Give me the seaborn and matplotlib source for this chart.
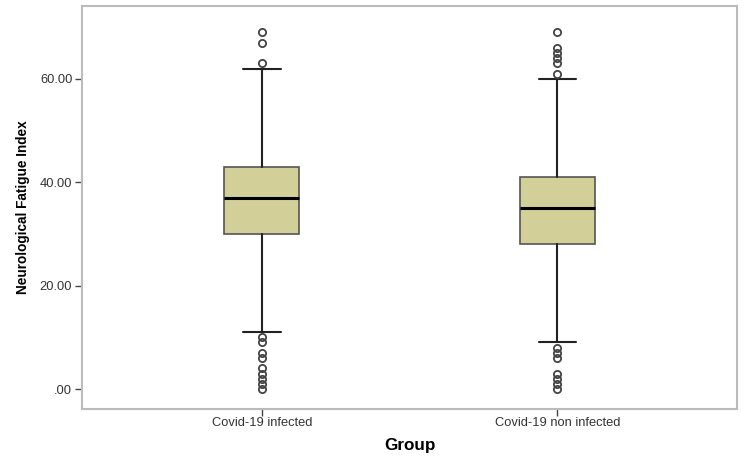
import matplotlib
matplotlib.use("Agg")
import matplotlib.pyplot as plt
import seaborn as sns

# ---- data ----
groups = ["Covid-19 infected", "Covid-19 non infected"]
q1 = [30, 28]
medians = [37, 35]
q3 = [43, 41]
whisker_low = [11, 9]
whisker_high = [62, 60]
outliers_infected = [63, 67, 69, 10, 9, 7, 6, 4, 3, 2, 1, 0]
outliers_noninfected = [61, 63, 64, 65, 66, 69, 8, 7, 6, 3, 2, 1, 0]
y_ticks = [0, 20, 40, 60]
y_tick_labels = [".00", "20.00", "40.00", "60.00"]

sns.set_style("white")
plt.rcParams["font.family"] = ["Liberation Sans", "DejaVu Sans"]

stats = []
for i, name in enumerate(groups):
    stats.append({
        "label": name,
        "q1": q1[i], "med": medians[i], "q3": q3[i],
        "whislo": whisker_low[i], "whishi": whisker_high[i],
        "fliers": [outliers_infected, outliers_noninfected][i],
    })

fig = plt.figure(figsize=(7.5, 4.59), dpi=100)
ax = fig.add_axes([0.1093, 0.1089, 0.8733, 0.878])

box_color = "#D3CF98"
ax.bxp(
    stats, positions=[0, 1], widths=0.254, patch_artist=True,
    showfliers=True, capwidths=0.127,
    boxprops=dict(facecolor=box_color, edgecolor="#555555", linewidth=1.2),
    medianprops=dict(color="black", linewidth=2.2),
    whiskerprops=dict(color="#222222", linewidth=1.5),
    capprops=dict(color="#222222", linewidth=1.5),
    flierprops=dict(marker="o", markersize=5.2, markerfacecolor="none",
                    markeredgecolor="#444444", markeredgewidth=1.3),
)

ax.set_xlim(-0.609, 1.608)
ax.set_ylim(-3.87, 74.1)
ax.set_yticks(y_ticks)
ax.set_yticklabels(y_tick_labels)
ax.set_xticks([0, 1])
ax.set_xticklabels(groups)

for s in ax.spines.values():
    s.set_visible(True)
    s.set_color("#BBBBBB")
    s.set_linewidth(1.5)

ax.tick_params(axis="both", which="both", direction="out", length=5, width=1,
               color="#444444", labelcolor="#333333", labelsize=9.3,
               left=True, bottom=True)
ax.tick_params(axis="x", pad=1)
ax.tick_params(axis="y", pad=2)

ax.set_ylabel("Neurological Fatigue Index", fontsize=9.8, fontweight="bold",
              color="black", labelpad=7)
ax.set_xlabel("Group", fontsize=12.3, fontweight="bold", color="black", labelpad=6)

fig.savefig("out.png", dpi=100)
